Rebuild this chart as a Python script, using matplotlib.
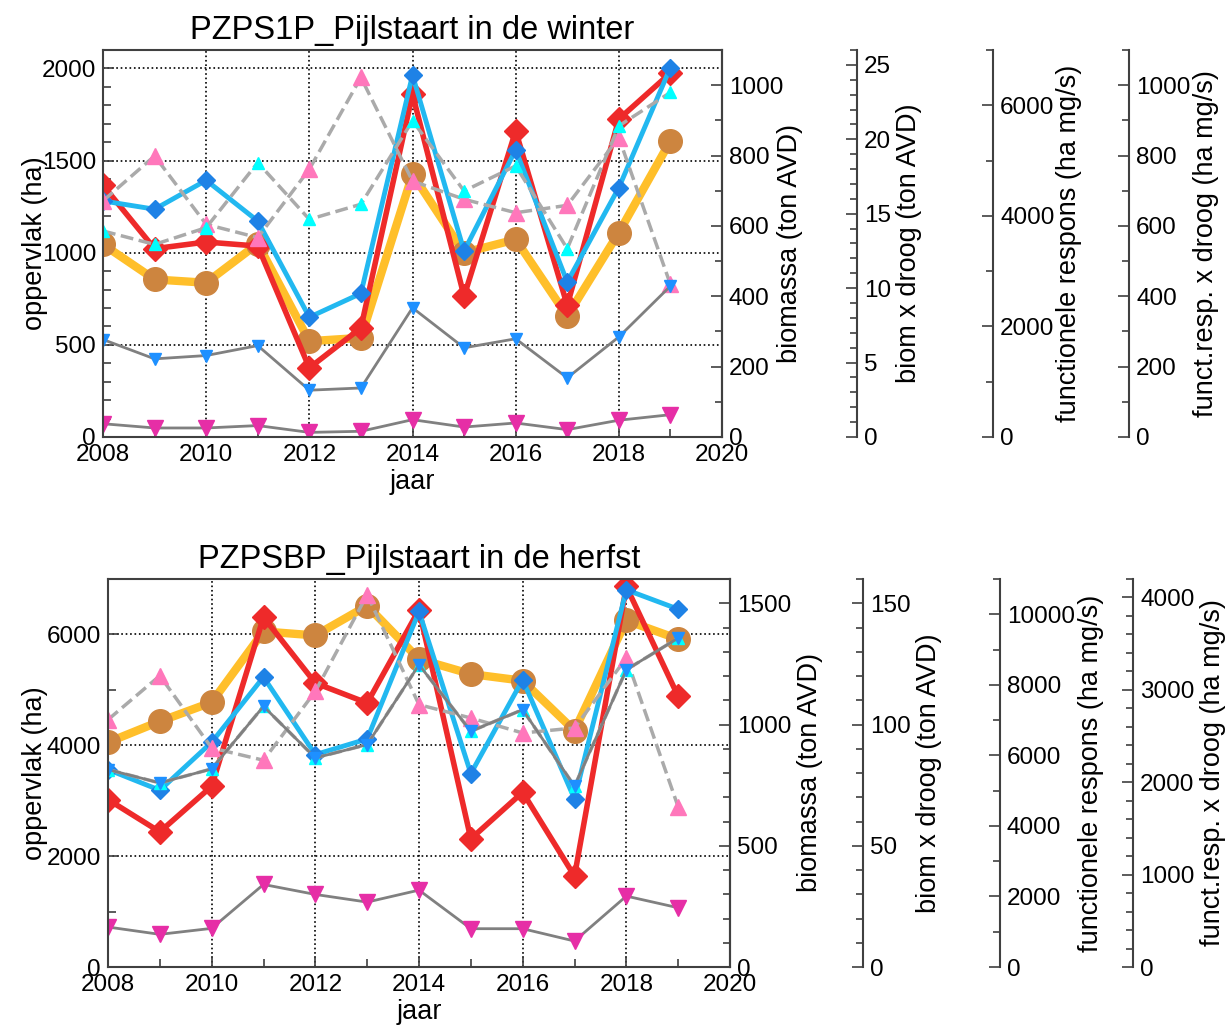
import matplotlib.pyplot as plt
from matplotlib.ticker import MultipleLocator

plt.rcParams['font.family'] = ['Liberation Sans', 'DejaVu Sans']

jaar = list(range(2008, 2020))

# PZPS1P winter (read in oppervlak units of the left axis)
w_oranje = [1045, 855, 837, 1049, 520, 538, 1426, 1000, 1072, 656, 1109, 1607]
w_rood = [1366, 1022, 1058, 1036, 375, 592, 1860, 764, 1661, 714, 1725, 1975]
w_blauw = [1281, 1236, 1393, 1172, 650, 779, 1964, 1009, 1558, 841, 1353, 2005]
w_roze = [1281, 1525, 1154, 1082, 1453, 1951, 1389, 1290, 1217, 1257, 1625, 828]
w_cyaan = [1118, 1045, 1136, 1489, 1181, 1263, 1716, 1335, 1471, 1022, 1688, 1870]
w_grijs = [529, 424, 442, 496, 254, 266, 701, 484, 533, 321, 543, 819]
w_magenta = [72, 49, 49, 62, 25, 31, 94, 54, 76, 40, 91, 121]

# PZPSBP herfst
h_oranje = [4054, 4432, 4775, 6054, 5982, 6517, 5555, 5285, 5165, 4264, 6252, 5916]
h_rood = [3021, 2438, 3261, 6312, 5123, 4763, 6444, 2312, 3153, 1640, 6865, 4883]
h_blauw = [3562, 3189, 4054, 5231, 3832, 4114, 6414, 3490, 5183, 3033, 6805, 6456]
h_roze = [4462, 5255, 3952, 3730, 4973, 6715, 4733, 4492, 4222, 4312, 5574, 2889]
h_cyaan = [3562, 3321, 3574, 4703, 3772, 4012, 5453, 4252, 4643, 3261, 5363, 5934]
h_grijs = [3562, 3321, 3574, 4703, 3772, 4012, 5453, 4252, 4643, 3261, 5363, 5934]
h_magenta = [721, 589, 697, 1489, 1309, 1171, 1387, 691, 691, 468, 1279, 1069]

stijlen = [
    dict(color='#FFBF2A', lw=6, marker='o', ms=17, mfc='#CD853F', mec='#CD853F'),
    dict(color='#EE2A2A', lw=4, marker='D', ms=12.5, mfc='#EE2A2A', mec='#EE2A2A'),
    dict(color='#22B8F0', lw=3.5, marker='D', ms=9, mfc='#1E82E6', mec='#1E82E6'),
    dict(color='#AAAAAA', lw=2.5, ls='--', marker='^', ms=11, mfc='#FF77BB', mec='#FF77BB'),
    dict(color='#AAAAAA', lw=2.5, ls='--', marker='^', ms=9, mfc='#00FFFF', mec='#00FFFF'),
    dict(color='#808080', lw=2, marker='v', ms=9, mfc='#1E90FF', mec='#1E90FF'),
    dict(color='#808080', lw=2, marker='v', ms=12, mfc='#E62EA6', mec='#E62EA6'),
]

SPINE = '#404040'
TICK_FS = 17.5
LABEL_FS = 19.5


def paneel(fig, rect, titel, reeksen, ylim, major, minor, extra, opp_x):
    ax = fig.add_axes(rect)
    for y, st in zip(reeksen, stijlen):
        ax.plot(jaar, y, **st)
    ax.set_xlim(2008, 2020)
    ax.set_ylim(0, ylim)
    ax.xaxis.set_major_locator(MultipleLocator(2))
    ax.xaxis.set_minor_locator(MultipleLocator(1))
    ax.yaxis.set_major_locator(MultipleLocator(major))
    ax.yaxis.set_minor_locator(MultipleLocator(minor))
    ax.tick_params(which='both', direction='in', labelsize=TICK_FS, color=SPINE,
                   right=False, top=False, pad=5)
    ax.tick_params(which='major', length=8, width=1.2)
    ax.tick_params(which='minor', length=6, width=1.2)
    ax.grid(True, which='major', color='black', ls=':', lw=1.2)
    for s in ax.spines.values():
        s.set_color(SPINE)
        s.set_linewidth(1.5)
    ax.set_title(titel, fontsize=23.5, pad=8)
    ax.set_xlabel('jaar', fontsize=LABEL_FS, labelpad=2)
    ax.set_ylabel('oppervlak (ha)', fontsize=LABEL_FS)
    ax.yaxis.set_label_coords(opp_x, 0.5)

    for pos, top, maj, mn, label, lx in extra:
        tw = ax.twinx()
        tw.set_ylim(0, top)
        tw.yaxis.set_major_locator(MultipleLocator(maj))
        tw.yaxis.set_minor_locator(MultipleLocator(mn))
        for naam in ['top', 'bottom', 'left']:
            tw.spines[naam].set_visible(False)
        tw.spines['right'].set_position(('axes', pos))
        tw.spines['right'].set_color(SPINE)
        tw.spines['right'].set_linewidth(1.5)
        tw.tick_params(which='both', direction='in', labelsize=TICK_FS, color=SPINE, pad=5)
        tw.tick_params(which='major', length=8, width=1.2)
        tw.tick_params(which='minor', length=5, width=1.2)
        tw.set_ylabel(label, fontsize=LABEL_FS)
        tw.yaxis.set_label_coords(lx, 0.5)
    return ax


fig = plt.figure(figsize=(12.27, 10.25), dpi=100)

paneel(fig, [103 / 1227, 1 - 437 / 1025, 619 / 1227, 387 / 1025],
       'PZPS1P_Pijlstaart in de winter',
       [w_oranje, w_rood, w_blauw, w_roze, w_cyaan, w_grijs, w_magenta],
       2100, 500, 100,
       [(1.0, 1100, 200, 100, 'biomassa (ton AVD)', 1.089),
        (1.218, 26, 5, 1, 'biom x droog (ton AVD)', 1.281),
        (1.438, 7000, 2000, 1000, 'functionele respons (ha mg/s)', 1.540),
        (1.658, 1100, 200, 100, 'funct.resp. x droog (ha mg/s)', 1.761)],
       -0.089)

paneel(fig, [108 / 1227, 1 - 967 / 1025, 622 / 1227, 388 / 1025],
       'PZPSBP_Pijlstaart in de herfst',
       [h_oranje, h_rood, h_blauw, h_roze, h_cyaan, h_grijs, h_magenta],
       7000, 2000, 1000,
       [(1.0, 1600, 500, 100, 'biomassa (ton AVD)', 1.108),
        (1.214, 160, 50, 10, 'biom x droog (ton AVD)', 1.299),
        (1.434, 11000, 2000, 1000, 'functionele respons (ha mg/s)', 1.560),
        (1.648, 4200, 1000, 200, 'funct.resp. x droog (ha mg/s)', 1.756)],
       -0.096)

fig.savefig('out.png', dpi=100)
